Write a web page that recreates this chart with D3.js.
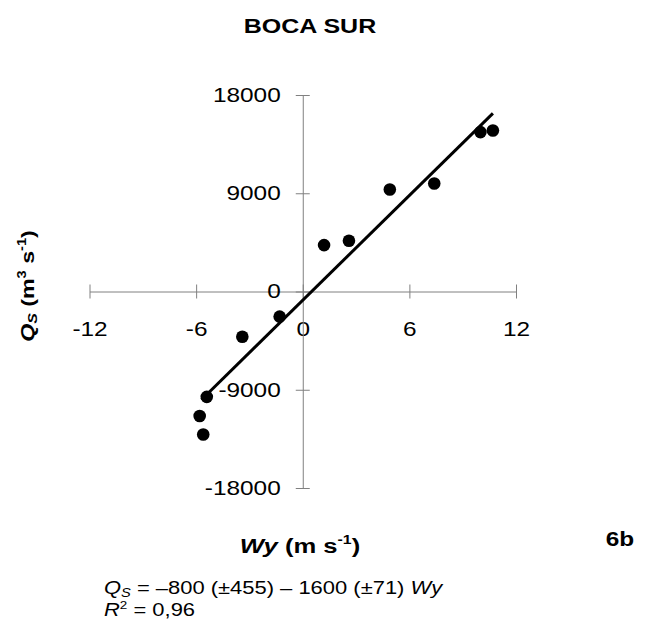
<!DOCTYPE html>
<html>
<head>
<meta charset="utf-8">
<script src="https://cdn.jsdelivr.net/npm/d3@7"></script>
<style>
  body { margin: 0; background: #fff; }
  text { font-family: "Liberation Sans", Arial, sans-serif; }
</style>
</head>
<body>
<svg id="chart"></svg>
<script>
const wy = [10.0, 10.7, 7.4, 4.9, 2.6, 1.2, -1.3, -3.4, -5.4, -5.8, -5.6]
const qs = [14600, 14750, 9900, 9350, 4650, 4250, -2300, -4150, -9650, -11400, -13100]

// regression line ends
const fitX = [-5.7, 10.7]
const fitIntercept = -800
const fitSlope = 1600

const xTicks = [-12, -6, 0, 6, 12]
const yTicks = [-18000, -9000, 0, 9000, 18000]

const width = 657, height = 625
const stretch = 1.22   // the original lettering is a bit wide

const svg = d3.select("#chart")
    .attr("width", width)
    .attr("height", height)

const x = d3.scaleLinear().domain([-12, 12]).range([89.5, 516])
const y = d3.scaleLinear().domain([-18000, 18000]).range([488, 95])

// place a stretched text at (px, py)
function label(px, py, anchor, size, bold) {
    return svg.append("text")
        .attr("transform", `translate(${px},${py}) scale(${stretch},1)`)
        .attr("text-anchor", anchor)
        .attr("font-size", size)
        .attr("font-weight", bold ? "bold" : "normal")
}

// axes crossing at the origin
const xAxis = svg.append("g")
    .attr("transform", `translate(0,${y(0)})`)
    .call(d3.axisBottom(x).tickValues(xTicks).tickFormat(d => String(d))
        .tickSizeOuter(0).tickSizeInner(7).tickPadding(23))
xAxis.select(".domain").attr("stroke", "#808080")
xAxis.selectAll(".tick line").attr("y1", -7).attr("stroke", "#808080")
xAxis.selectAll(".tick text")
    .attr("font-size", 20)
    .attr("font-family", "Liberation Sans, Arial, sans-serif")
    .attr("fill", "#000")
    .attr("transform", `scale(${stretch},1)`)

const yAxis = svg.append("g")
    .attr("transform", `translate(${x(0)},0)`)
    .call(d3.axisLeft(y).tickValues(yTicks).tickFormat(d => String(d))
        .tickSizeOuter(0).tickSizeInner(7).tickPadding(15))
yAxis.select(".domain").attr("stroke", "#808080")
yAxis.selectAll(".tick line").attr("x1", 7).attr("stroke", "#808080")
yAxis.selectAll(".tick text")
    .attr("font-size", 20)
    .attr("font-family", "Liberation Sans, Arial, sans-serif")
    .attr("fill", "#000")
    .attr("x", -22 / stretch)
    .attr("transform", `scale(${stretch},1)`)

// fitted line
svg.append("line")
    .attr("x1", x(fitX[0])).attr("y1", y(fitIntercept + fitSlope * fitX[0]))
    .attr("x2", x(fitX[1])).attr("y2", y(fitIntercept + fitSlope * fitX[1]))
    .attr("stroke", "#000")
    .attr("stroke-width", 3)

// points
svg.selectAll("circle.pt")
    .data(wy.map((d, i) => [d, qs[i]]))
    .join("circle")
    .attr("class", "pt")
    .attr("cx", d => x(d[0]))
    .attr("cy", d => y(d[1]))
    .attr("r", 6.3)
    .attr("fill", "#000")

// title
label(310, 33, "middle", 20.5, true).text("BOCA SUR")

// y label
const yl = svg.append("text")
    .attr("transform", `translate(34,286) rotate(-90) scale(${stretch},1)`)
    .attr("text-anchor", "middle")
    .attr("font-size", 19)
    .attr("font-weight", "bold")
yl.append("tspan").attr("font-style", "italic").text("Q")
yl.append("tspan").attr("font-style", "italic").attr("font-size", 13).attr("dy", 3).text("S")
yl.append("tspan").attr("dy", -3).text(" (m")
yl.append("tspan").attr("font-size", 12).attr("dy", -8).text("3")
yl.append("tspan").attr("dy", 8).text(" s")
yl.append("tspan").attr("font-size", 12).attr("dy", -8).text("-1")
yl.append("tspan").attr("dy", 8).text(")")

// x label
const xl = label(300, 553, "middle", 21, true)
xl.append("tspan").attr("font-style", "italic").text("Wy")
xl.append("tspan").text("  (m s")
xl.append("tspan").attr("font-size", 13).attr("dy", -9).text("-1")
xl.append("tspan").attr("dy", 9).text(")")

label(620, 546, "middle", 20, true).text("6b")

// regression equation
const eq = label(104, 594, "start", 18, false)
eq.append("tspan").attr("font-style", "italic").text("Q")
eq.append("tspan").attr("font-style", "italic").attr("font-size", 12).attr("dy", 3).text("S")
eq.append("tspan").attr("dy", -3).text(" = \u2013800 (\u00b1455) \u2013 1600 (\u00b171) ")
eq.append("tspan").attr("font-style", "italic").text("Wy")

const r2 = label(104, 616, "start", 18, false)
r2.append("tspan").attr("font-style", "italic").text("R")
r2.append("tspan").attr("font-size", 11).attr("dy", -7).text("2")
r2.append("tspan").attr("dy", 7).text(" = 0,96")
</script>
</body>
</html>
